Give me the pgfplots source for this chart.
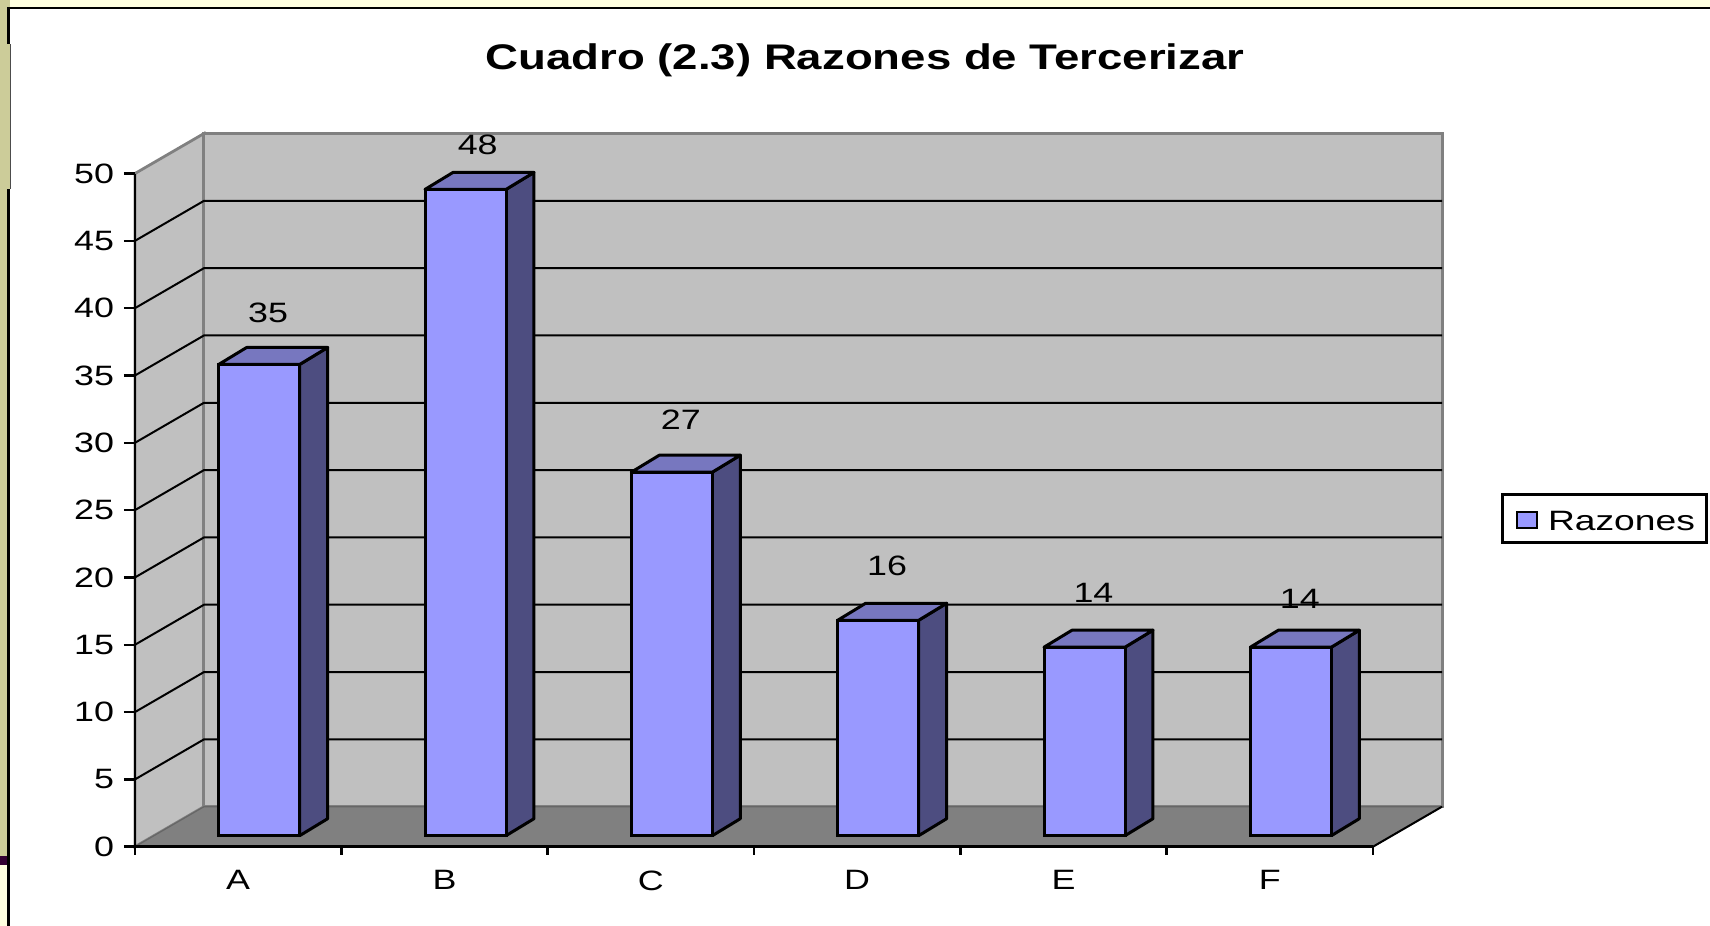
\documentclass[border=0pt]{standalone}
\usepackage{fontspec}
\usepackage{pgfplots}
\usepackage{pgfplotstable}
\pgfplotsset{compat=1.18}
\setmainfont{Liberation Sans}
\newfontfamily\chartfont[FakeStretch=1.28]{Liberation Sans}
\newfontfamily\legendfont[FakeStretch=1.33]{Liberation Sans}
\definecolor{wall}{HTML}{C0C0C0}
\definecolor{floorc}{HTML}{808080}
\definecolor{barfront}{HTML}{9999FF}
\definecolor{barside}{HTML}{4D4D80}
\definecolor{bartop}{HTML}{7777BF}
\definecolor{slidecream}{HTML}{FFFFE0}
\definecolor{slideolive}{HTML}{CCCC99}
\definecolor{slidepurple}{HTML}{330033}

\pgfplotstableread{
x v
0 35
1 48
2 27
3 16
4 14
5 14
}\razones

% depth of the box and of the bars, in data units (1 x = 206.33 px, 1 y = 13.46 px)
\newcommand{\wallgrid}[1]{%
  \pgfmathsetmacro{\yb}{#1+2.972}%
  \addplot[forget plot, black, line width=1pt] coordinates {(-0.5,#1) (-0.1656,\yb) (5.8344,\yb)};
}
\newcommand{\barfaces}[2]{%
  \pgfmathsetmacro{\xa}{#1-0.0945}%
  \pgfmathsetmacro{\xb}{#1+0.2980}%
  \pgfmathsetmacro{\xc}{#1+0.4337}%
  \pgfmathsetmacro{\xd}{#1+0.0412}%
  \pgfmathsetmacro{\ya}{0.817}%
  \pgfmathsetmacro{\yb}{2.08}%
  \pgfmathsetmacro{\yc}{#2+0.817}%
  \pgfmathsetmacro{\yd}{#2+2.08}%
  \addplot[forget plot, fill=barside, draw=black, line width=1.5pt, line join=round]
    coordinates {(\xb,\ya) (\xc,\yb) (\xc,\yd) (\xb,\yc)} -- cycle;
  \addplot[forget plot, fill=bartop, draw=black, line width=1.5pt, line join=round]
    coordinates {(\xa,\yc) (\xd,\yd) (\xc,\yd) (\xb,\yc)} -- cycle;
}

\begin{document}
\begin{tikzpicture}
\useasboundingbox (0,0) rectangle (855pt,463pt);
\begin{scope}[x=0.5pt,y=-0.5pt,yshift=463pt]
  \fill[slidecream] (0,0) rectangle (1710,7);
  \fill[slideolive] (0,0) rectangle (7,856);
  \fill[slideolive] (7,0) rectangle (10,7);
  \fill[slideolive] (7,44) rectangle (10,189);
  \fill[slidepurple] (0,856) rectangle (7,865);
  \fill[slidecream] (0,865) rectangle (7,926);
  \fill[black] (7,7) rectangle (1710,9.5);
  \fill[black] (7,7) rectangle (10,44);
  \fill[black!70] (10,44) rectangle (10.7,189);
  \fill[black] (7,189) rectangle (10,926);
\end{scope}
\begin{axis}[
    at={(67.5pt,39.65pt)}, anchor=south west,
    scale only axis,
    width=619pt, height=336.6pt,
    xmin=-0.5, xmax=5.5,
    ymin=0, ymax=50,
    clip=false,
    axis on top,
    axis x line=bottom, axis y line=left,
    axis line style={-, line width=1.2pt},
    xtick={-0.5,0.5,1.5,2.5,3.5,4.5,5.5},
    xticklabels={A,B,C,D,E,F},
    x tick label as interval,
    ytick={0,5,...,50},
    tick align=outside,
    major tick style={black, line width=1.2pt},
    xtick style={/pgfplots/major tick length=4pt},
    ytick style={/pgfplots/major tick length=5.5pt},
    /pgf/number format/assume math mode=true,
    tick label style={font=\chartfont\fontsize{14}{14}\selectfont},
    yticklabel style={inner sep=0pt, xshift=-6pt},
    xticklabel style={inner sep=0pt, yshift=-7.5pt},
    title={\chartfont\bfseries\fontsize{17.8}{18}\selectfont Cuadro (2.3) Razones de Tercerizar},
    title style={at={(0.5897,1.1508)}, anchor=center, inner sep=0pt},
    legend style={at={(1.187,0.4877)}, anchor=center, draw=black, line width=1.5pt,
      font=\legendfont\fontsize{14}{14}\selectfont, inner xsep=4pt, inner ysep=2.5pt},
    legend image code/.code={
      \path[draw=none, fill=none] (-3.3pt,6pt) -- (13.7pt,6pt);
      \draw[fill=barfront, draw=black, line width=1pt] (0pt,-8.4pt) rectangle (10.4pt,-0.4pt);
    },
]
  % box
  \addplot[forget plot, fill=wall, draw=floorc, line width=1.4pt]
    coordinates {(-0.5,0) (-0.5,50) (-0.1656,52.972) (-0.1656,2.972)} -- cycle;
  \addplot[forget plot, fill=wall, draw=floorc, line width=1.5pt]
    coordinates {(-0.1656,2.972) (-0.1656,52.972) (5.8344,52.972) (5.8344,2.972)} -- cycle;
  \addplot[forget plot, fill=floorc, draw=floorc!80!black, line width=0.6pt]
    coordinates {(-0.5,0) (-0.1656,2.972) (5.8344,2.972) (5.5,0)} -- cycle;
  \addplot[forget plot, black, line width=1pt] coordinates {(5.5,0) (5.8344,2.972)};
  \pgfplotsinvokeforeach{5,10,15,20,25,30,35,40,45}{\wallgrid{#1}}
  % bars
  \barfaces{0}{35}
  \barfaces{1}{48}
  \barfaces{2}{27}
  \barfaces{3}{16}
  \barfaces{4}{14}
  \barfaces{5}{14}
  \addplot[ybar, bar width=40.5pt, bar shift=0pt, fill=barfront, draw=black, line width=1.5pt,
    shift={(10.5pt,5.5pt)},
    nodes near coords,
    nodes near coords style={font=\chartfont\fontsize{14}{14}\selectfont, anchor=center,
      inner sep=0pt, xshift=4.5pt, yshift=26pt},
    /pgf/number format/assume math mode=true,
    coordinate style/.condition={\coordindex==1}{xshift=1.6pt, yshift=-3.8pt},
    coordinate style/.condition={\coordindex==3}{yshift=1pt},
    coordinate style/.condition={\coordindex==4}{yshift=1pt},
    coordinate style/.condition={\coordindex==5}{yshift=-1.6pt},
  ] table[x=x, y=v] {\razones};
  \addlegendentry{Razones}
\end{axis}
\end{tikzpicture}
\end{document}
